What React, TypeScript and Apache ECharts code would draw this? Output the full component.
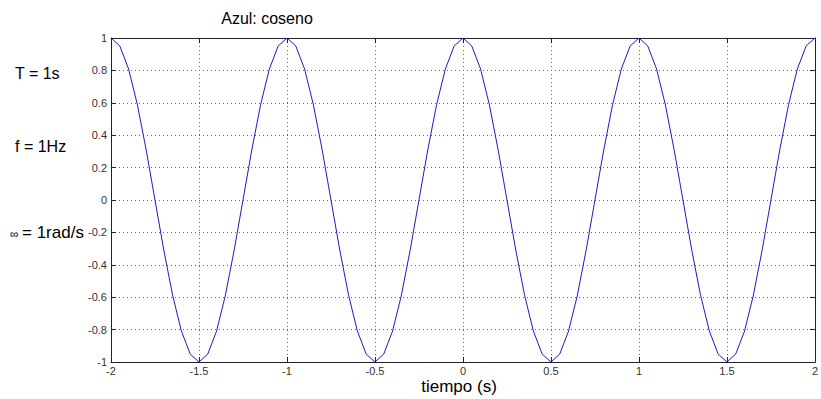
import React, { useEffect, useRef } from "react";
import * as echarts from "echarts";

const xMin = -2;
const xMax = 2;
const xStep = 0.05;
const yValues = [
  1, 0.951, 0.809, 0.588, 0.309, 0, -0.309, -0.588, -0.809, -0.951,
  -1, -0.951, -0.809, -0.588, -0.309, 0, 0.309, 0.588, 0.809, 0.951,
  1, 0.951, 0.809, 0.588, 0.309, 0, -0.309, -0.588, -0.809, -0.951,
  -1, -0.951, -0.809, -0.588, -0.309, 0, 0.309, 0.588, 0.809, 0.951,
  1, 0.951, 0.809, 0.588, 0.309, 0, -0.309, -0.588, -0.809, -0.951,
  -1, -0.951, -0.809, -0.588, -0.309, 0, 0.309, 0.588, 0.809, 0.951,
  1, 0.951, 0.809, 0.588, 0.309, 0, -0.309, -0.588, -0.809, -0.951,
  -1, -0.951, -0.809, -0.588, -0.309, 0, 0.309, 0.588, 0.809, 0.951,
  1,
];
const titleText = "Azul: coseno";
const xLabel = "tiempo (s)";
const notes = ["T = 1s", "f = 1Hz", "= 1rad/s"];

const FONT = "'Liberation Sans', Arial, sans-serif";

export default function App() {
  const ref = useRef<HTMLDivElement>(null);
  useEffect(() => {
    if (!ref.current) return;
    const chart = echarts.init(ref.current, null, { renderer: "svg" });
    const data = yValues.map((y, i) => [+(xMin + i * xStep).toFixed(2), y]);
    const fmt = (v: number) => String(+(+v).toFixed(2));
    const axisCommon = {
      axisLine: { show: true, onZero: false, lineStyle: { color: "#222", width: 1 } },
      axisTick: { show: true, inside: true, length: 5, lineStyle: { color: "#222" } },
    };
    chart.setOption({
      animation: false,
      backgroundColor: "#fff",
      grid: { left: 111, right: 6, top: 38, bottom: 37, containLabel: false },
      xAxis: [
        {
          type: "value", min: xMin, max: xMax, interval: 0.5, position: "bottom",
          ...axisCommon,
          axisLabel: { color: "#333", fontSize: 11, fontFamily: FONT, margin: 3, formatter: fmt },
          splitLine: { show: true, lineStyle: { color: "#666", type: [1, 3], width: 1 } },
        },
        {
          type: "value", min: xMin, max: xMax, interval: 0.5, position: "top",
          ...axisCommon,
          axisLabel: { show: false },
          splitLine: { show: false },
        },
      ],
      yAxis: [
        {
          type: "value", min: -1, max: 1, interval: 0.2, position: "left",
          ...axisCommon,
          axisLabel: { color: "#333", fontSize: 11, fontFamily: FONT, margin: 4, formatter: fmt },
          splitLine: { show: true, lineStyle: { color: "#666", type: [1, 3], width: 1 } },
        },
        {
          type: "value", min: -1, max: 1, interval: 0.2, position: "right",
          ...axisCommon,
          axisLabel: { show: false },
          splitLine: { show: false },
        },
      ],
      series: [
        {
          type: "line",
          data,
          xAxisIndex: 0,
          yAxisIndex: 0,
          showSymbol: false,
          symbol: "none",
          lineStyle: { color: "#1a1acc", width: 1 },
        },
      ],
      graphic: [
        { type: "text", x: 267, y: 18, style: { text: titleText, font: `16px ${FONT}`, fill: "#000", textAlign: "center", textVerticalAlign: "middle" } },
        { type: "text", x: 459, y: 386, style: { text: xLabel, font: `17px ${FONT}`, fill: "#000", textAlign: "center", textVerticalAlign: "middle" } },
        { type: "text", x: 15, y: 73, style: { text: notes[0], font: `16px ${FONT}`, fill: "#000", textAlign: "left", textVerticalAlign: "middle" } },
        { type: "text", x: 15, y: 146, style: { text: notes[1], font: `16px ${FONT}`, fill: "#000", textAlign: "left", textVerticalAlign: "middle" } },
        { type: "text", x: 10, y: 234, style: { text: "∞", font: `12px ${FONT}`, fill: "#000", textAlign: "left", textVerticalAlign: "middle" } },
        { type: "text", x: 22, y: 232, style: { text: notes[2], font: `17px ${FONT}`, fill: "#000", textAlign: "left", textVerticalAlign: "middle" } },
      ],
    });
    return () => chart.dispose();
  }, []);
  return <div ref={ref} style={{ width: 821, height: 399, position: "absolute", left: 0, top: 0 }} />;
}
